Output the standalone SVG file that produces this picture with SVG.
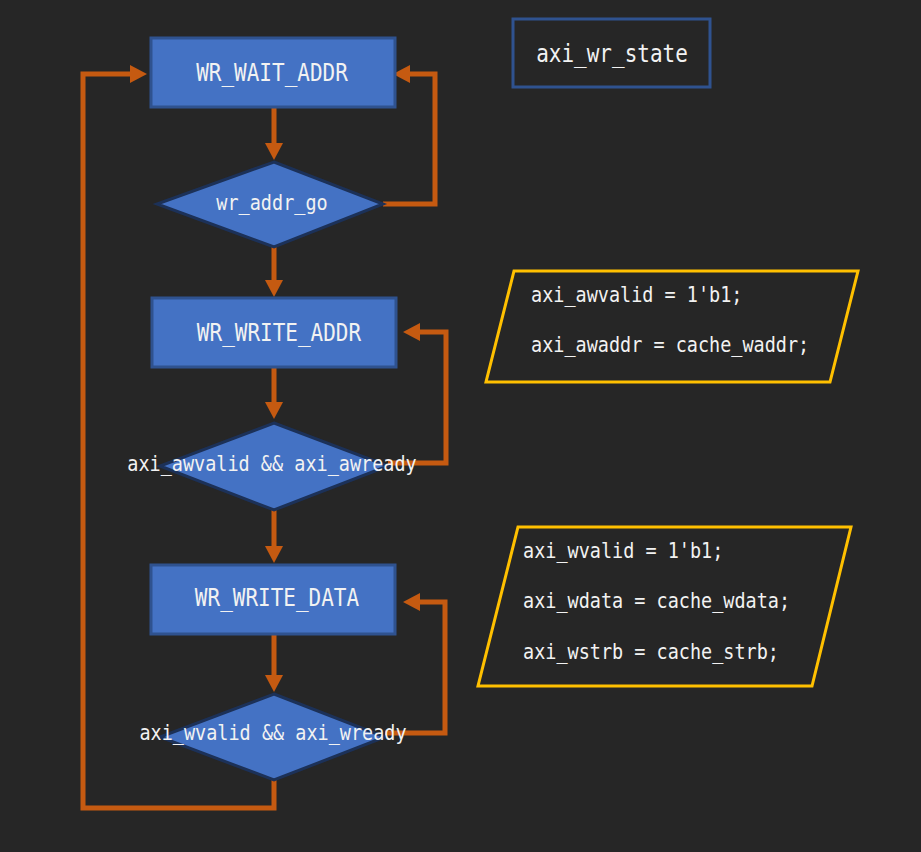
<svg xmlns="http://www.w3.org/2000/svg" width="921" height="852" viewBox="0 0 921 852">
<style>
.bg{fill:#262626}
.box{fill:#4472C4;stroke:#2F528F;stroke-width:3}
.dia{fill:#4472C4;stroke:#1C3158;stroke-width:3}
.title{fill:none;stroke:#2F528F;stroke-width:3}
.note{fill:none;stroke:#FFC000;stroke-width:3}
.con{fill:none;stroke:#C55A11;stroke-width:5;stroke-linejoin:miter}
.t{font-family:"DejaVu Sans Mono","Liberation Mono",monospace;fill:#F2F2F2;dominant-baseline:central}
.lg{font-size:21px;text-anchor:middle}
.sm{font-size:18.5px}
.mid{text-anchor:middle}
</style>
<defs>
<marker id="ah" viewBox="0 0 17 18" refX="0" refY="9" markerWidth="17" markerHeight="18" markerUnits="userSpaceOnUse" orient="auto">
<path d="M0,0 L17,9 L0,18 z" fill="#C55A11"/>
</marker>
</defs>
<rect class="bg" x="0" y="0" width="921" height="852"/>
<g id="connectors">
<path class="con" d="M274,107 V143" marker-end="url(#ah)"/>
<path class="con" d="M274,247 V280" marker-end="url(#ah)"/>
<path class="con" d="M274,367 V402" marker-end="url(#ah)"/>
<path class="con" d="M274,510 V546" marker-end="url(#ah)"/>
<path class="con" d="M274,634 V675" marker-end="url(#ah)"/>
<path class="con" d="M383,204 H435 V74 H410" marker-end="url(#ah)"/>
<path class="con" d="M388,463 H446 V332 H420" marker-end="url(#ah)"/>
<path class="con" d="M385,733 H445 V602 H420" marker-end="url(#ah)"/>
<path class="con" d="M274,780 V808 H83 V74 H130" marker-end="url(#ah)"/>
</g>
<g id="wr_wait_addr">
<rect class="box" x="151" y="38" width="244" height="69"/>
<text class="t lg" transform="translate(272 72) scale(1 1.18)">WR_WAIT_ADDR</text>
</g>
<g id="wr_addr_go">
<polygon class="dia" points="274,162 383,204 274,247 157,204"/>
<text class="t sm mid" transform="translate(272 203) scale(1 1.15)">wr_addr_go</text>
</g>
<g id="wr_write_addr">
<rect class="box" x="152" y="298" width="244" height="69"/>
<text class="t lg" transform="translate(279 332) scale(1 1.18)">WR_WRITE_ADDR</text>
</g>
<g id="aw_handshake">
<polygon class="dia" points="274,423 388,466 274,510 160,466"/>
<text class="t sm mid" transform="translate(272 464) scale(1 1.15)">axi_awvalid &amp;&amp; axi_awready</text>
</g>
<g id="wr_write_data">
<rect class="box" x="151" y="565" width="244" height="69"/>
<text class="t lg" transform="translate(277 597) scale(1 1.18)">WR_WRITE_DATA</text>
</g>
<g id="w_handshake">
<polygon class="dia" points="274,694 385,737 274,780 160,737"/>
<text class="t sm mid" transform="translate(273 733) scale(1 1.15)">axi_wvalid &amp;&amp; axi_wready</text>
</g>
<g id="axi_wr_state">
<rect class="title" x="513" y="19" width="197" height="68"/>
<text class="t lg" transform="translate(612 53) scale(1 1.18)">axi_wr_state</text>
</g>
<g id="aw_assign">
<polygon class="note" points="514,271 858,271 830,382 486,382"/>
<text class="t sm" transform="translate(531 295) scale(1 1.15)">axi_awvalid = 1'b1;</text>
<text class="t sm" transform="translate(531 345) scale(1 1.15)">axi_awaddr = cache_waddr;</text>
</g>
<g id="w_assign">
<polygon class="note" points="518,527 851,527 812,686 478,686"/>
<text class="t sm" transform="translate(523 551) scale(1 1.15)">axi_wvalid = 1'b1;</text>
<text class="t sm" transform="translate(523 601) scale(1 1.15)">axi_wdata = cache_wdata;</text>
<text class="t sm" transform="translate(523 652) scale(1 1.15)">axi_wstrb = cache_strb;</text>
</g>
</svg>
